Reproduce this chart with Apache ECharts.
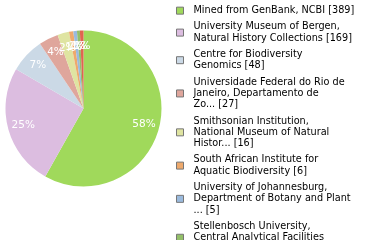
<!DOCTYPE html>
<html>
<head>
<meta charset="utf-8">
<script src="https://cdn.jsdelivr.net/npm/echarts@6/dist/echarts.min.js"></script>
<style>html,body{margin:0;padding:0;background:#fff;}#c{width:380px;height:240px;}</style>
</head>
<body>
<div id="c"></div>
<script>
const categories = [
  "Mined from GenBank, NCBI [389]",
  "University Museum of Bergen,\nNatural History Collections [169]",
  "Centre for Biodiversity\nGenomics [48]",
  "Universidade Federal do Rio de\nJaneiro, Departamento de\nZo... [27]",
  "Smithsonian Institution,\nNational Museum of Natural\nHistor... [16]",
  "South African Institute for\nAquatic Biodiversity [6]",
  "University of Johannesburg,\nDepartment of Botany and Plant\n... [5]",
  "Stellenbosch University,\nCentral Analytical Facilities\n... [4]",
  "Other [5]"
];
const values = [389, 169, 48, 27, 16, 6, 5, 4, 5];
const colors = ["#a0d95b", "#dcbde0", "#cbd9e6", "#dfa69c", "#dfe4a1", "#eea96c", "#9abadd", "#93bf69", "#e0644f"];

const total = values.reduce((a, b) => a + b, 0);
const data = categories.map((n, i) => ({ name: n, value: values[i], itemStyle: { color: colors[i] } }));
const font = "DejaVu Sans";
const chart = echarts.init(document.getElementById('c'), null, { renderer: 'canvas' });
chart.setOption({
  animation: false,
  legend: {
    type: 'plain',
    orient: 'vertical',
    left: 176,
    top: 5,
    height: 2000,
    padding: 0,
    itemWidth: 7,
    itemHeight: 7,
    itemGap: 5,
    icon: 'rect',
    itemStyle: { borderColor: '#777', borderWidth: 1 },
    textStyle: { fontFamily: font, fontSize: 9.7, lineHeight: 11.3, color: '#000', padding: [0, 0, 0, 5] },
    data: categories
  },
  series: [
    {
      type: 'pie',
      center: [83.5, 108.5],
      radius: [0, 78],
      startAngle: 90,
      clockwise: true,
      silent: true,
      label: { show: false },
      labelLine: { show: false },
      itemStyle: { borderWidth: 0 },
      data: data
    },
    {
      type: 'pie',
      center: [83.5, 108.5],
      radius: [41, 78],
      startAngle: 90,
      clockwise: true,
      silent: true,
      legendHoverLink: false,
      minShowLabelAngle: 0,
      avoidLabelOverlap: false,
      labelLayout: { hideOverlap: false },
      itemStyle: { color: 'rgba(0,0,0,0)', borderWidth: 0 },
      label: {
        show: true,
        position: 'inside',
        color: '#fff',
        fontFamily: font,
        fontSize: 10.5,
        formatter: p => Math.round(p.value / total * 100) + '%'
      },
      labelLine: { show: false },
      data: categories.map((n, i) => ({ name: n + ' ', value: values[i] }))
    }
  ]
});
</script>
</body>
</html>
